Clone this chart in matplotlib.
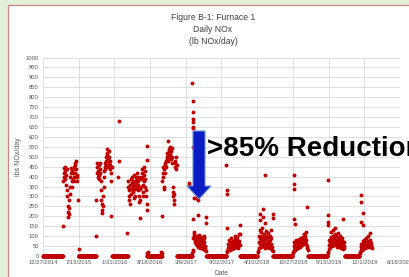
import matplotlib
matplotlib.use("Agg")
import matplotlib.pyplot as plt
import pandas as pd
from matplotlib.patches import Rectangle, Polygon

plt.rcParams['font.family'] = ['Liberation Sans', 'DejaVu Sans']

# ---------------- data ----------------
tick_labels = ["12/27/2014", "7/15/2015", "1/31/2016", "8/18/2016", "3/6/2017",
               "9/22/2017", "4/10/2018", "10/27/2018", "5/15/2019", "12/1/2019",
               "6/18/2020"]
y_ticks = list(range(0, 1001, 50))

# furnace-off periods (daily value 0)
zero_runs = [("2014-12-27", "2015-04-16"), ("2015-07-14", "2015-10-19"),
             ("2016-01-19", "2016-04-14"), ("2016-08-01", "2016-10-21"),
             ("2017-01-16", "2017-04-08"), ("2017-06-29", "2017-10-19"),
             ("2018-01-05", "2018-04-11"), ("2018-07-08", "2018-10-24"),
             ("2019-01-20", "2019-05-08"), ("2019-08-14", "2019-11-03")]

# operating periods (values every second day)
season_starts = ["2015-04-18", "2015-10-20", "2016-04-16", "2016-10-23",
                 "2017-04-11", "2017-10-22", "2018-04-14", "2018-10-27",
                 "2019-05-11", "2019-11-06"]
season_1 = [150, 380, 420, 445, 400, 430, 390, 450, 410, 360, 440,
            330, 300, 250, 220, 195, 210, 240, 280, 310, 350,
            400, 420, 445, 430, 380, 350, 390, 420, 440, 450, 400, 380, 420,
            460, 470, 480, 440, 410, 400, 380, 280]
season_2 = [100, 280, 420, 470, 450, 400, 430, 460, 410, 390,
            440, 470, 420, 380, 330, 280, 260, 230, 215, 250,
            300, 350, 400, 430, 450, 470, 440, 480, 500, 460,
            520, 540, 510, 490, 450, 470, 500, 530, 480, 460,
            440, 420, 200, 380, 450]
season_3 = [380, 350, 330, 300, 280, 260, 340, 360, 310, 390,
            370, 340, 400, 380, 350, 320, 290, 360, 410, 380,
            340, 300, 370, 400, 420, 390, 350, 330, 380, 360,
            400, 270, 300, 340, 190, 280, 350, 390, 420, 440,
            400, 360, 320, 300, 380, 410, 450, 430, 390, 350,
            330, 300, 260]
season_4 = [200, 380, 420, 450, 400, 350, 340, 440, 460, 420,
            470, 480, 450, 500, 490, 520, 580, 510, 480, 530,
            540, 500, 520, 550, 510, 490, 530, 545, 500, 470,
            350, 320, 300, 280, 260, 310, 450, 480, 470, 440,
            500, 460]
season_5 = [15, 25, 30, 90, 110, 120, 100, 80, 95, 70, 60, 85, 100, 75, 55,
            45, 65, 90, 105, 80, 60, 50, 40, 70, 85, 95, 75, 55, 45, 35, 60,
            80, 100, 90, 70, 50, 40, 30, 25]
season_6 = [20, 25, 40, 60, 35, 50, 80, 45, 30, 55, 70, 40, 60, 90, 50, 35,
            45, 65, 75, 55, 40, 60, 85, 100, 70, 50, 45, 60, 80, 95, 65, 50,
            40, 60, 110, 75, 55]
season_7 = [20, 25, 40, 70, 100, 130, 90, 60, 45, 80, 120, 140, 100, 70, 50,
            60, 90, 110, 80, 55, 40, 65, 100, 125, 85, 60, 45, 70, 95, 115,
            75, 50, 40, 60, 80, 100, 130, 90, 60, 45, 30, 25]
season_8 = [15, 20, 30, 50, 70, 40, 30, 60, 80, 55, 35, 45, 65, 75, 50, 40,
            55, 70, 85, 60, 45, 50, 65, 80, 90, 70, 55, 60, 75, 95, 110, 85,
            65, 70, 90, 100, 120, 80, 60, 50, 40, 30]
season_9 = [15, 20, 35, 55, 80, 60, 45, 70, 95, 120, 85, 60, 50, 75, 100,
            130, 90, 65, 55, 80, 110, 140, 100, 75, 60, 45, 70, 90, 115, 80,
            55, 45, 60, 85, 100, 70, 50, 40, 55, 75, 90, 65, 45, 35, 50, 70, 40]
season_10 = [15, 20, 30, 45, 60, 40, 30, 55, 75, 50, 35, 45, 65, 80, 55, 40,
             50, 70, 90, 60, 45, 55, 75, 100, 65, 50, 45, 60, 80, 70, 55, 65,
             50, 40]
seasons = [season_1, season_2, season_3, season_4, season_5,
           season_6, season_7, season_8, season_9, season_10]

# isolated days
outlier_dates = ["2015-07-17", "2016-02-20", "2016-02-26", "2016-02-27",
                 "2016-04-13", "2016-07-30", "2016-07-31", "2016-08-01",
                 "2016-08-02", "2016-08-04", "2016-10-19", "2016-10-21",
                 "2017-03-24", "2017-03-26",
                 "2017-04-12", "2017-04-13", "2017-04-14", "2017-04-15",
                 "2017-04-16", "2017-04-17", "2017-04-18", "2017-04-13",
                 "2017-04-19", "2017-04-14", "2017-05-02", "2017-05-13",
                 "2017-05-14", "2017-06-27", "2017-06-26",
                 "2017-10-20", "2017-10-21", "2017-10-22", "2017-10-23",
                 "2018-01-03", "2018-01-02",
                 "2018-05-23", "2018-05-12", "2018-05-13", "2018-04-25",
                 "2018-04-26", "2018-07-07", "2018-07-06", "2018-05-24",
                 "2018-11-01", "2018-11-02", "2018-11-03", "2018-11-04",
                 "2018-11-05", "2019-01-13",
                 "2019-05-10", "2019-05-11", "2019-05-12", "2019-05-13",
                 "2019-08-03",
                 "2019-11-11", "2019-11-12", "2019-11-13", "2019-11-23",
                 "2019-11-24", "2020-01-01"]
outlier_values = [35, 400, 480, 680,
                  115, 555, 485, 230,
                  15, 18, 20, 15,
                  369, 360,
                  870, 780, 725, 690,
                  675, 650, 645, 550,
                  290, 184, 292, 282,
                  206, 198, 164,
                  458, 335, 314, 139,
                  156, 111,
                  407, 235, 198, 212,
                  181, 214, 189, 164,
                  407, 365, 340, 185,
                  161, 245,
                  382, 206, 173, 156,
                  185,
                  307, 273, 173, 218,
                  156, 117]

# ---------------- assemble series ----------------
dates, vals = [], []
for s, e in zero_runs:
    d = pd.date_range(s, e, freq="D")
    dates.extend(d)
    vals.extend([0] * len(d))
for start, values in zip(season_starts, seasons):
    d = pd.date_range(start, periods=len(values), freq="2D")
    dates.extend(d)
    vals.extend(values)
dates.extend(pd.to_datetime(outlier_dates))
vals.extend(outlier_values)

# ---------------- figure ----------------
W, H = 409, 277
fig = plt.figure(figsize=(W / 100, H / 100), dpi=100, facecolor="#e3efd9")
panel = Rectangle((8 / W, -0.1), 1.2, 1.1 - 5 / H,
                  transform=fig.transFigure, facecolor="white",
                  edgecolor="#c98580", lw=0.9, zorder=-10)
fig.patches.append(panel)

ax = fig.add_axes([43 / W, 1 - 256 / H, (400 - 43) / W, (256 - 57.5) / H])
ax.set_zorder(1)
ax.set_facecolor("white")
tick_dates = pd.to_datetime(tick_labels, format="%m/%d/%Y")
ax.set_xlim(tick_dates[0], tick_dates[-1])
ax.set_ylim(0, 1000)
ax.set_xticks(tick_dates)
ax.set_xticklabels(tick_labels)
ax.set_yticks(y_ticks)
ax.set_yticklabels([str(v) for v in y_ticks])
ax.grid(True, color="#d9d9d9", lw=0.6)
ax.set_axisbelow(True)
for sp in ax.spines.values():
    sp.set_visible(False)
ax.tick_params(length=0, labelsize=4.2, colors="#595959", pad=3)

ax.plot(dates, vals, "o", ms=2.8, color="#c00000", mec="none", clip_on=False,
        zorder=3)

ax.set_xlabel("Date", fontsize=4.8, color="#595959", labelpad=3.5)
ax.set_ylabel("lbs NOx/day", fontsize=5, color="#595959", labelpad=3)

# title
for txt, yy in [("Figure B-1: Furnace 1", 17), ("Daily NOx", 29),
                ("(lb NOx/day)", 41)]:
    fig.text(213 / W, 1 - yy / H, txt, ha="center", va="center",
             fontsize=6.2, color="#404040")

# arrow annotation (drawn above the axes)
arrow_px = [(193, 131), (205, 131), (205, 186), (211, 186), (199, 199),
            (187, 186), (193, 186)]
arrow = Polygon([(x / W, 1 - y / H) for x, y in arrow_px],
                closed=True, transform=fig.transFigure,
                facecolor="#0a1cc4", edgecolor="#6f8fd0", lw=0.8, zorder=5)
arrow.set_clip_on(False)
ax.add_artist(arrow)
ax.text(207 / W, 1 - 156 / H, ">85% Reduction", fontsize=20,
        fontweight="bold", color="black", ha="left", va="baseline",
        transform=fig.transFigure, zorder=6, clip_on=False)

fig.savefig("out.png", dpi=100, facecolor=fig.get_facecolor())
